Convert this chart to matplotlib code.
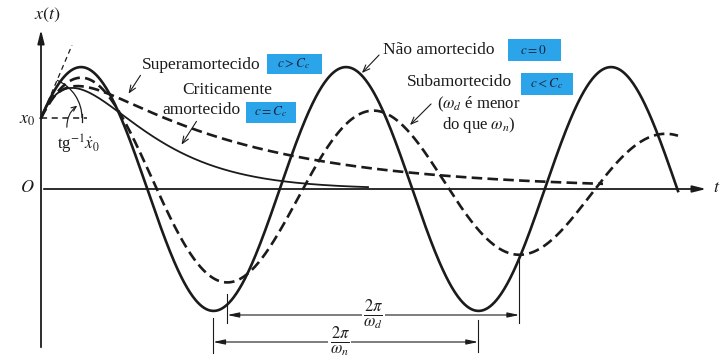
import numpy as np
import matplotlib.pyplot as plt
from matplotlib.patches import Rectangle, Arc

plt.rcParams['font.family'] = ['Liberation Serif', 'DejaVu Serif']
plt.rcParams['mathtext.fontset'] = 'stix'

# condições iniciais (mesmas para as quatro respostas)
x0 = 71.0
v0 = 2.35
# não amortecido (c = 0)
wn = 0.02371
# subamortecido (c < Cc)
amp_sub = 117.0
sigma_sub = 0.0012
wd = 0.0215
# criticamente amortecido (c = Cc)
s_crit = 0.020
# superamortecido (c > Cc): duas raízes reais
s_slow, s_fast = 0.006, 0.0411
# instante final de cada curva: não amort., sub, crítico, super
t_end = [637, 637, 327, 562]

ink = '#1b1b1b'
box_blue = '#2ba4e9'


def resp_nao(t):
    return x0 * np.cos(wn * t) + v0 / wn * np.sin(wn * t)


def resp_sub(t):
    phi = np.arccos(x0 / amp_sub)
    return amp_sub * np.exp(-sigma_sub * t) * np.cos(wd * t - phi)


def resp_crit(t):
    return (x0 + (v0 + s_crit * x0) * t) * np.exp(-s_crit * t)


def resp_super(t):
    a1 = (v0 + s_fast * x0) / (s_fast - s_slow)
    return a1 * np.exp(-s_slow * t) + (x0 - a1) * np.exp(-s_fast * t)


fig = plt.figure(figsize=(7.21, 3.59), dpi=100)
ax = fig.add_axes([0, 0, 1, 1])
ax.set_xlim(-41, 680)
ax.set_ylim(-170, 189)
ax.axis('off')

# eixos
ax.annotate('', xy=(668, 0), xytext=(0, 0),
            arrowprops=dict(arrowstyle='-|>,head_length=0.8,head_width=0.2', color=ink, lw=1.3))
ax.annotate('', xy=(0, 162), xytext=(0, -161),
            arrowprops=dict(arrowstyle='-|>,head_length=0.8,head_width=0.2', color=ink, lw=1.3))

# curvas
t1 = np.linspace(0, t_end[0], 900)
t2 = np.linspace(0, t_end[1], 900)
t3 = np.linspace(0, t_end[2], 500)
t4 = np.linspace(0, t_end[3], 700)
ax.plot(t3, resp_crit(t3), color=ink, lw=1.3)
ax.plot(t4, resp_super(t4), color=ink, lw=1.9, dashes=(4, 2))
ax.plot(t2, resp_sub(t2), color=ink, lw=1.9, dashes=(4, 2))
ax.plot(t1, resp_nao(t1), color=ink, lw=1.9)

# tangente inicial, linha de x0 e ângulo
tt = np.array([0, 31])
ax.plot(tt, x0 + v0 * tt, color=ink, lw=0.9, dashes=(4, 3))
ax.plot([0, 46], [x0, x0], color=ink, lw=1.1, dashes=(4, 3))
ang = np.degrees(np.arctan(v0))
ax.add_patch(Arc((0, x0), 82, 82, theta1=0, theta2=ang, color=ink, lw=0.9))
ax.plot([41, 41], [x0 - 4, x0 + 4], color=ink, lw=0.9)
ax.annotate('', xy=(38.5, x0 + 14), xytext=(26, x0 - 12),
            arrowprops=dict(arrowstyle='->,head_length=0.35,head_width=0.15',
                            color=ink, lw=0.8, connectionstyle='arc3,rad=-0.3'))

# textos dos eixos
ax.text(6, 174, r'$x(t)$', fontsize=13, ha='center', va='center', color=ink)
ax.text(-14, 1, r'$O$', fontsize=13, ha='center', va='center', color=ink)
ax.text(-14, 70, r'$x_0$', fontsize=13, ha='center', va='center', color=ink)
ax.text(676, 1, r'$t$', fontsize=13, ha='center', va='center', color=ink)
ax.text(37, 45, r'tg$^{-1}\dot{x}_0$', fontsize=12, ha='center', va='center', color=ink)


def caixa(xc, yc, w, h, txt):
    ax.add_patch(Rectangle((xc - w / 2, yc - h / 2), w, h, facecolor=box_blue,
                           edgecolor='none', zorder=3))
    ax.text(xc, yc, txt, fontsize=9.5, ha='center', va='center', color='#18233d', zorder=4)


def seta(p_txt, p_tip):
    ax.annotate('', xy=p_tip, xytext=p_txt,
                arrowprops=dict(arrowstyle='->,head_length=0.5,head_width=0.2', color=ink, lw=0.8))


# rótulos das curvas
fs = 12.5
ax.text(101, 124, 'Superamortecido', fontsize=fs, ha='left', va='center', color=ink)
caixa(253, 125, 55, 20, r'$c > C_c$')
seta((101, 116), (86, 93))

ax.text(141, 99, 'Criticamente', fontsize=fs, ha='left', va='center', color=ink)
ax.text(121, 79, 'amortecido', fontsize=fs, ha='left', va='center', color=ink)
caixa(230, 77, 50, 21, r'$c = C_c$')
seta((157, 70), (139, 42))

ax.text(342, 139, 'Não amortecido', fontsize=fs, ha='left', va='center', color=ink)
caixa(493, 139, 53, 22, r'$c = 0$')
seta((340, 136), (319, 114))

ax.text(366, 107, 'Subamortecido', fontsize=fs, ha='left', va='center', color=ink)
caixa(506, 105, 52, 22, r'$c < C_c$')
ax.text(396, 85, r'($\omega_d$ é menor', fontsize=12, ha='left', va='center', color=ink)
ax.text(401, 64, r'do que $\omega_n$)', fontsize=12, ha='left', va='center', color=ink)
seta((392, 87), (367, 62))

# períodos marcados a partir dos mínimos das curvas
xs = resp_sub(t2)
i1 = np.argmin(np.where(t2 < 330, xs, np.inf))
i2 = np.argmin(np.where(t2 > 330, xs, np.inf))
ta, tb = t2[i1], t2[i2]
xn = resp_nao(t1)
j1 = np.argmin(np.where(t1 < 300, xn, np.inf))
j2 = np.argmin(np.where(t1 > 300, xn, np.inf))
tc, td = t1[j1], t1[j2]

yd, yn = -126, -153
ax.plot([ta, ta], [xs[i1] - 12, -134], color=ink, lw=0.8)
ax.plot([tb, tb], [xs[i2] - 1, -134], color=ink, lw=0.8)
ax.plot([tc, tc], [-129, -164], color=ink, lw=0.8)
ax.plot([td, td], [-131, -163], color=ink, lw=0.8)
for (pa, pb, yy) in [(ta, tb, yd), (tc, td, yn)]:
    ax.annotate('', xy=(pb, yy), xytext=(pa, yy),
                arrowprops=dict(arrowstyle='<|-|>,head_length=0.7,head_width=0.15',
                                color=ink, lw=0.8, shrinkA=0, shrinkB=0))
ax.text((ta + tb) / 2, yd, r'$\frac{2\pi}{\omega_d}$', fontsize=17, ha='center', va='center',
        color=ink, bbox=dict(facecolor='white', edgecolor='none', pad=1))
ax.text((tc + td) / 2 - 6, yn, r'$\frac{2\pi}{\omega_n}$', fontsize=17, ha='center', va='center',
        color=ink, bbox=dict(facecolor='white', edgecolor='none', pad=1))

fig.savefig('out.png', dpi=100, facecolor='white')
